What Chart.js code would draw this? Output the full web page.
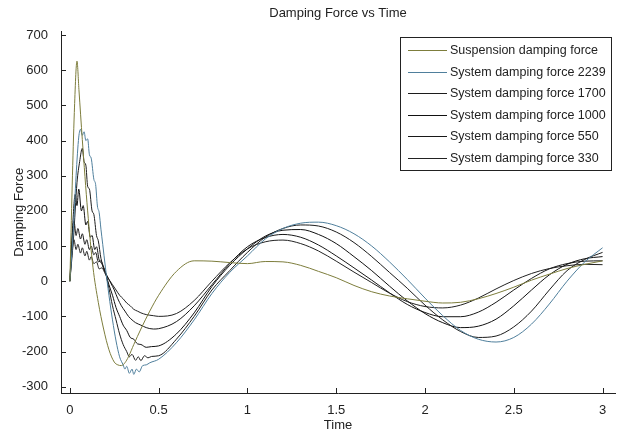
<!DOCTYPE html>
<html>
<head>
<meta charset="utf-8">
<script src="https://cdn.jsdelivr.net/npm/chart.js@4.4.1/dist/chart.umd.min.js"></script>
<style>
body { margin: 0; background: #fff; }
#wrap { width: 618px; height: 435px; }
</style>
</head>
<body>
<div id="wrap"><canvas id="forceChart" width="618" height="435"></canvas></div>
<script>
// DATA

const seriesNames = [
'Suspension damping force',
'System damping force 2239',
'System damping force 1700',
'System damping force 1000',
'System damping force 550',
'System damping force 330'
];
const seriesColors = ['#7d7d3c','#4f7f9c','#1c1c1c','#111111','#181818','#222222'];

const xTicks = [0,0.5,1,1.5,2,2.5,3];
const yTicks = [-300,-200,-100,0,100,200,300,400,500,600,700];

// shared time grid for the smooth part (t >= 0.5)
const lateTime = [0.5,0.6,0.7,0.8,0.9,1.0,1.1,1.2,1.3,1.4,1.5,1.6,1.7,1.8,1.9,2.0,2.1,2.2,2.3,2.4,2.5,2.6,2.7,2.8,2.9,3.0];

const suspEarlyT = [0,0.013,0.025,0.04,0.051,0.07,0.1,0.13,0.16,0.19,0.22,0.25,0.27,0.29,0.31,0.33,0.36,0.4,0.45];
const suspEarlyF = [0,271,480,626,545,403,200,40,-60,-136,-195,-230,-238,-240,-232,-215,-180,-136,-85];
const suspLateF = [-40,28,58,57,53,50,56,55,45,28,10,-12,-30,-42,-50,-57,-62,-60,-50,-35,-17,3,20,36,48,58];

const c2239EarlyT = [0,0.02,0.035,0.05,0.06,0.07,0.08,0.09,0.1,0.11,0.12,0.135,0.145,0.155,0.165,0.175,0.185,0.2,0.22,0.24,0.26,0.28,0.3,0.31,0.32,0.335,0.35,0.36,0.375,0.39,0.41,0.43,0.45];
const c2239EarlyF = [0,150,300,410,432,415,425,400,405,360,350,290,275,214,195,148,105,40,-40,-110,-170,-215,-238,-250,-242,-262,-250,-265,-250,-258,-240,-238,-232];
const c2239LateF = [-222,-175,-110,-35,25,72,120,150,165,168,158,135,100,55,5,-48,-98,-140,-165,-173,-160,-122,-65,0,55,95];

const c1700EarlyT = [0,0.02,0.04,0.055,0.07,0.08,0.09,0.1,0.11,0.125,0.135,0.15,0.16,0.175,0.19,0.2,0.22,0.24,0.26,0.28,0.3,0.32,0.335,0.35,0.37,0.385,0.4,0.42,0.44,0.46];
const c1700EarlyF = [0,120,280,340,378,340,330,270,262,200,190,130,115,65,40,25,-20,-70,-110,-150,-180,-200,-215,-208,-225,-215,-226,-212,-218,-214];
const c1700LateF = [-212,-165,-100,-25,30,82,125,150,160,157,140,110,70,25,-20,-68,-110,-143,-160,-156,-130,-85,-25,30,62,82];

const c1000EarlyT = [0,0.015,0.03,0.04,0.05,0.065,0.075,0.09,0.1,0.115,0.125,0.14,0.15,0.165,0.18,0.2,0.22,0.24,0.26,0.28,0.3,0.32,0.34,0.36,0.38,0.4,0.43,0.46];
const c1000EarlyF = [0,150,247,215,262,200,215,160,170,125,130,90,98,60,50,25,-10,-40,-75,-100,-125,-140,-160,-165,-178,-180,-188,-186];
const c1000LateF = [-184,-150,-90,-15,45,92,128,145,147,133,107,70,30,-14,-56,-92,-118,-132,-128,-108,-70,-25,18,48,64,70];

const c550EarlyT = [0,0.012,0.023,0.035,0.045,0.06,0.07,0.085,0.095,0.11,0.12,0.135,0.145,0.16,0.175,0.19,0.21,0.23,0.25,0.27,0.29,0.31,0.33,0.35,0.37,0.4,0.43,0.47];
const c550EarlyF = [0,120,171,130,150,120,135,105,118,90,100,75,82,55,58,35,15,-5,-25,-50,-70,-85,-100,-110,-118,-125,-132,-136];
const c550LateF = [-135,-115,-70,-10,50,98,124,133,125,103,72,38,3,-33,-66,-89,-101,-101,-88,-60,-25,8,35,50,57,58];

const c330EarlyT = [0,0.012,0.023,0.035,0.045,0.06,0.07,0.085,0.095,0.11,0.12,0.135,0.15,0.165,0.18,0.2,0.22,0.24,0.26,0.28,0.3,0.32,0.34,0.36,0.38,0.4,0.43,0.47];
const c330EarlyF = [0,80,118,90,105,80,95,72,85,60,70,50,55,35,38,20,5,-10,-25,-40,-50,-62,-70,-80,-85,-90,-95,-98];
const c330LateF = [-100,-92,-55,0,52,92,112,117,107,86,57,26,-4,-34,-58,-72,-76,-68,-48,-22,2,22,36,44,48,47];


function toPoints(earlyT, earlyF, lateF){
const pts = earlyT.map((t,i) => ({x:t, y:earlyF[i]}));
return pts.concat(lateTime.map((t,i) => ({x:t, y:lateF[i]})));
}

const allPoints = [
toPoints(suspEarlyT, suspEarlyF, suspLateF),
toPoints(c2239EarlyT, c2239EarlyF, c2239LateF),
toPoints(c1700EarlyT, c1700EarlyF, c1700LateF),
toPoints(c1000EarlyT, c1000EarlyF, c1000LateF),
toPoints(c550EarlyT, c550EarlyF, c550LateF),
toPoints(c330EarlyT, c330EarlyF, c330LateF)
];

const FONT = '"Liberation Sans", Arial, sans-serif';
const TEXT = '#222';

// matlab style inward ticks
const inwardTicks = {
id: 'inwardTicks',
afterDraw(chart){
const {ctx, chartArea, scales} = chart;
ctx.save();
ctx.strokeStyle = '#222';
ctx.lineWidth = 1;
ctx.beginPath();
xTicks.forEach(v => {
const px = Math.round(scales.x.getPixelForValue(v)) + 0.5;
ctx.moveTo(px, chartArea.bottom);
ctx.lineTo(px, chartArea.bottom - 5);
});
yTicks.forEach(v => {
const py = Math.round(scales.y.getPixelForValue(v)) + 0.5;
ctx.moveTo(chartArea.left, py);
ctx.lineTo(chartArea.left + 5, py);
});
ctx.stroke();
ctx.restore();
}
};

// legend box drawn inside the axes, top right
const boxLegend = {
id: 'boxLegend',
afterDraw(chart){
const ctx = chart.ctx;
const left = 400, top = 37, right = 611, bottom = 170;
ctx.save();
ctx.fillStyle = '#fff';
ctx.fillRect(left, top, right-left, bottom-top);
ctx.strokeStyle = '#222';
ctx.lineWidth = 1;
ctx.strokeRect(left+0.5, top+0.5, right-left, bottom-top);
ctx.font = '12.5px ' + FONT;
ctx.textBaseline = 'middle';
ctx.textAlign = 'left';
seriesNames.forEach((name,i) => {
const y = Math.round(50 + i*21.5) + 0.5;
ctx.strokeStyle = seriesColors[i];
ctx.beginPath();
ctx.moveTo(408, y);
ctx.lineTo(447, y);
ctx.stroke();
ctx.fillStyle = TEXT;
ctx.fillText(name, 450, y);
});
ctx.restore();
}
};

const ctx = document.getElementById('forceChart');

new Chart(ctx, {
type: 'line',
data: {
datasets: seriesNames.map((name,i) => ({
label: name,
data: allPoints[i],
borderColor: seriesColors[i],
borderWidth: 1,
pointRadius: 0,
fill: false,
cubicInterpolationMode: 'monotone'
}))
},
options: {
responsive: false,
animation: false,
devicePixelRatio: 1,
layout: { padding: { top: 0, right: 3, left: 0, bottom: 0 } },
plugins: {
legend: { display: false },
tooltip: { enabled: false },
title: {
display: true,
fullSize: false,
text: 'Damping Force vs Time',
color: TEXT,
font: { family: FONT, size: 13, weight: 'normal' },
padding: { top: 6, bottom: 10 }
}
},
scales: {
x: {
type: 'linear',
min: -0.05,
max: 3.07,
afterBuildTicks: s => { s.ticks = xTicks.map(v => ({value: v})); },
afterFit: s => { s.height = 42; },
grid: { display: false },
border: { display: true, color: '#222', width: 1 },
ticks: { color: TEXT, font: { family: FONT, size: 13 }, padding: 2, maxRotation: 0, callback: v => String(v) },
title: { display: true, text: 'Time', color: TEXT, font: { family: FONT, size: 13 }, padding: { top: 0, bottom: 2 } }
},
y: {
min: -318,
max: 710,
afterBuildTicks: s => { s.ticks = yTicks.map(v => ({value: v})); },
afterFit: s => { s.width = 61; },
grid: { display: false },
border: { display: true, color: '#222', width: 1 },
ticks: { color: TEXT, font: { family: FONT, size: 13 }, padding: 5, callback: v => String(v) },
title: { display: true, text: 'Damping Force', color: TEXT, font: { family: FONT, size: 13 }, padding: { top: 12, bottom: 0 } }
}
}
},
plugins: [inwardTicks, boxLegend]
});
</script>
</body>
</html>
